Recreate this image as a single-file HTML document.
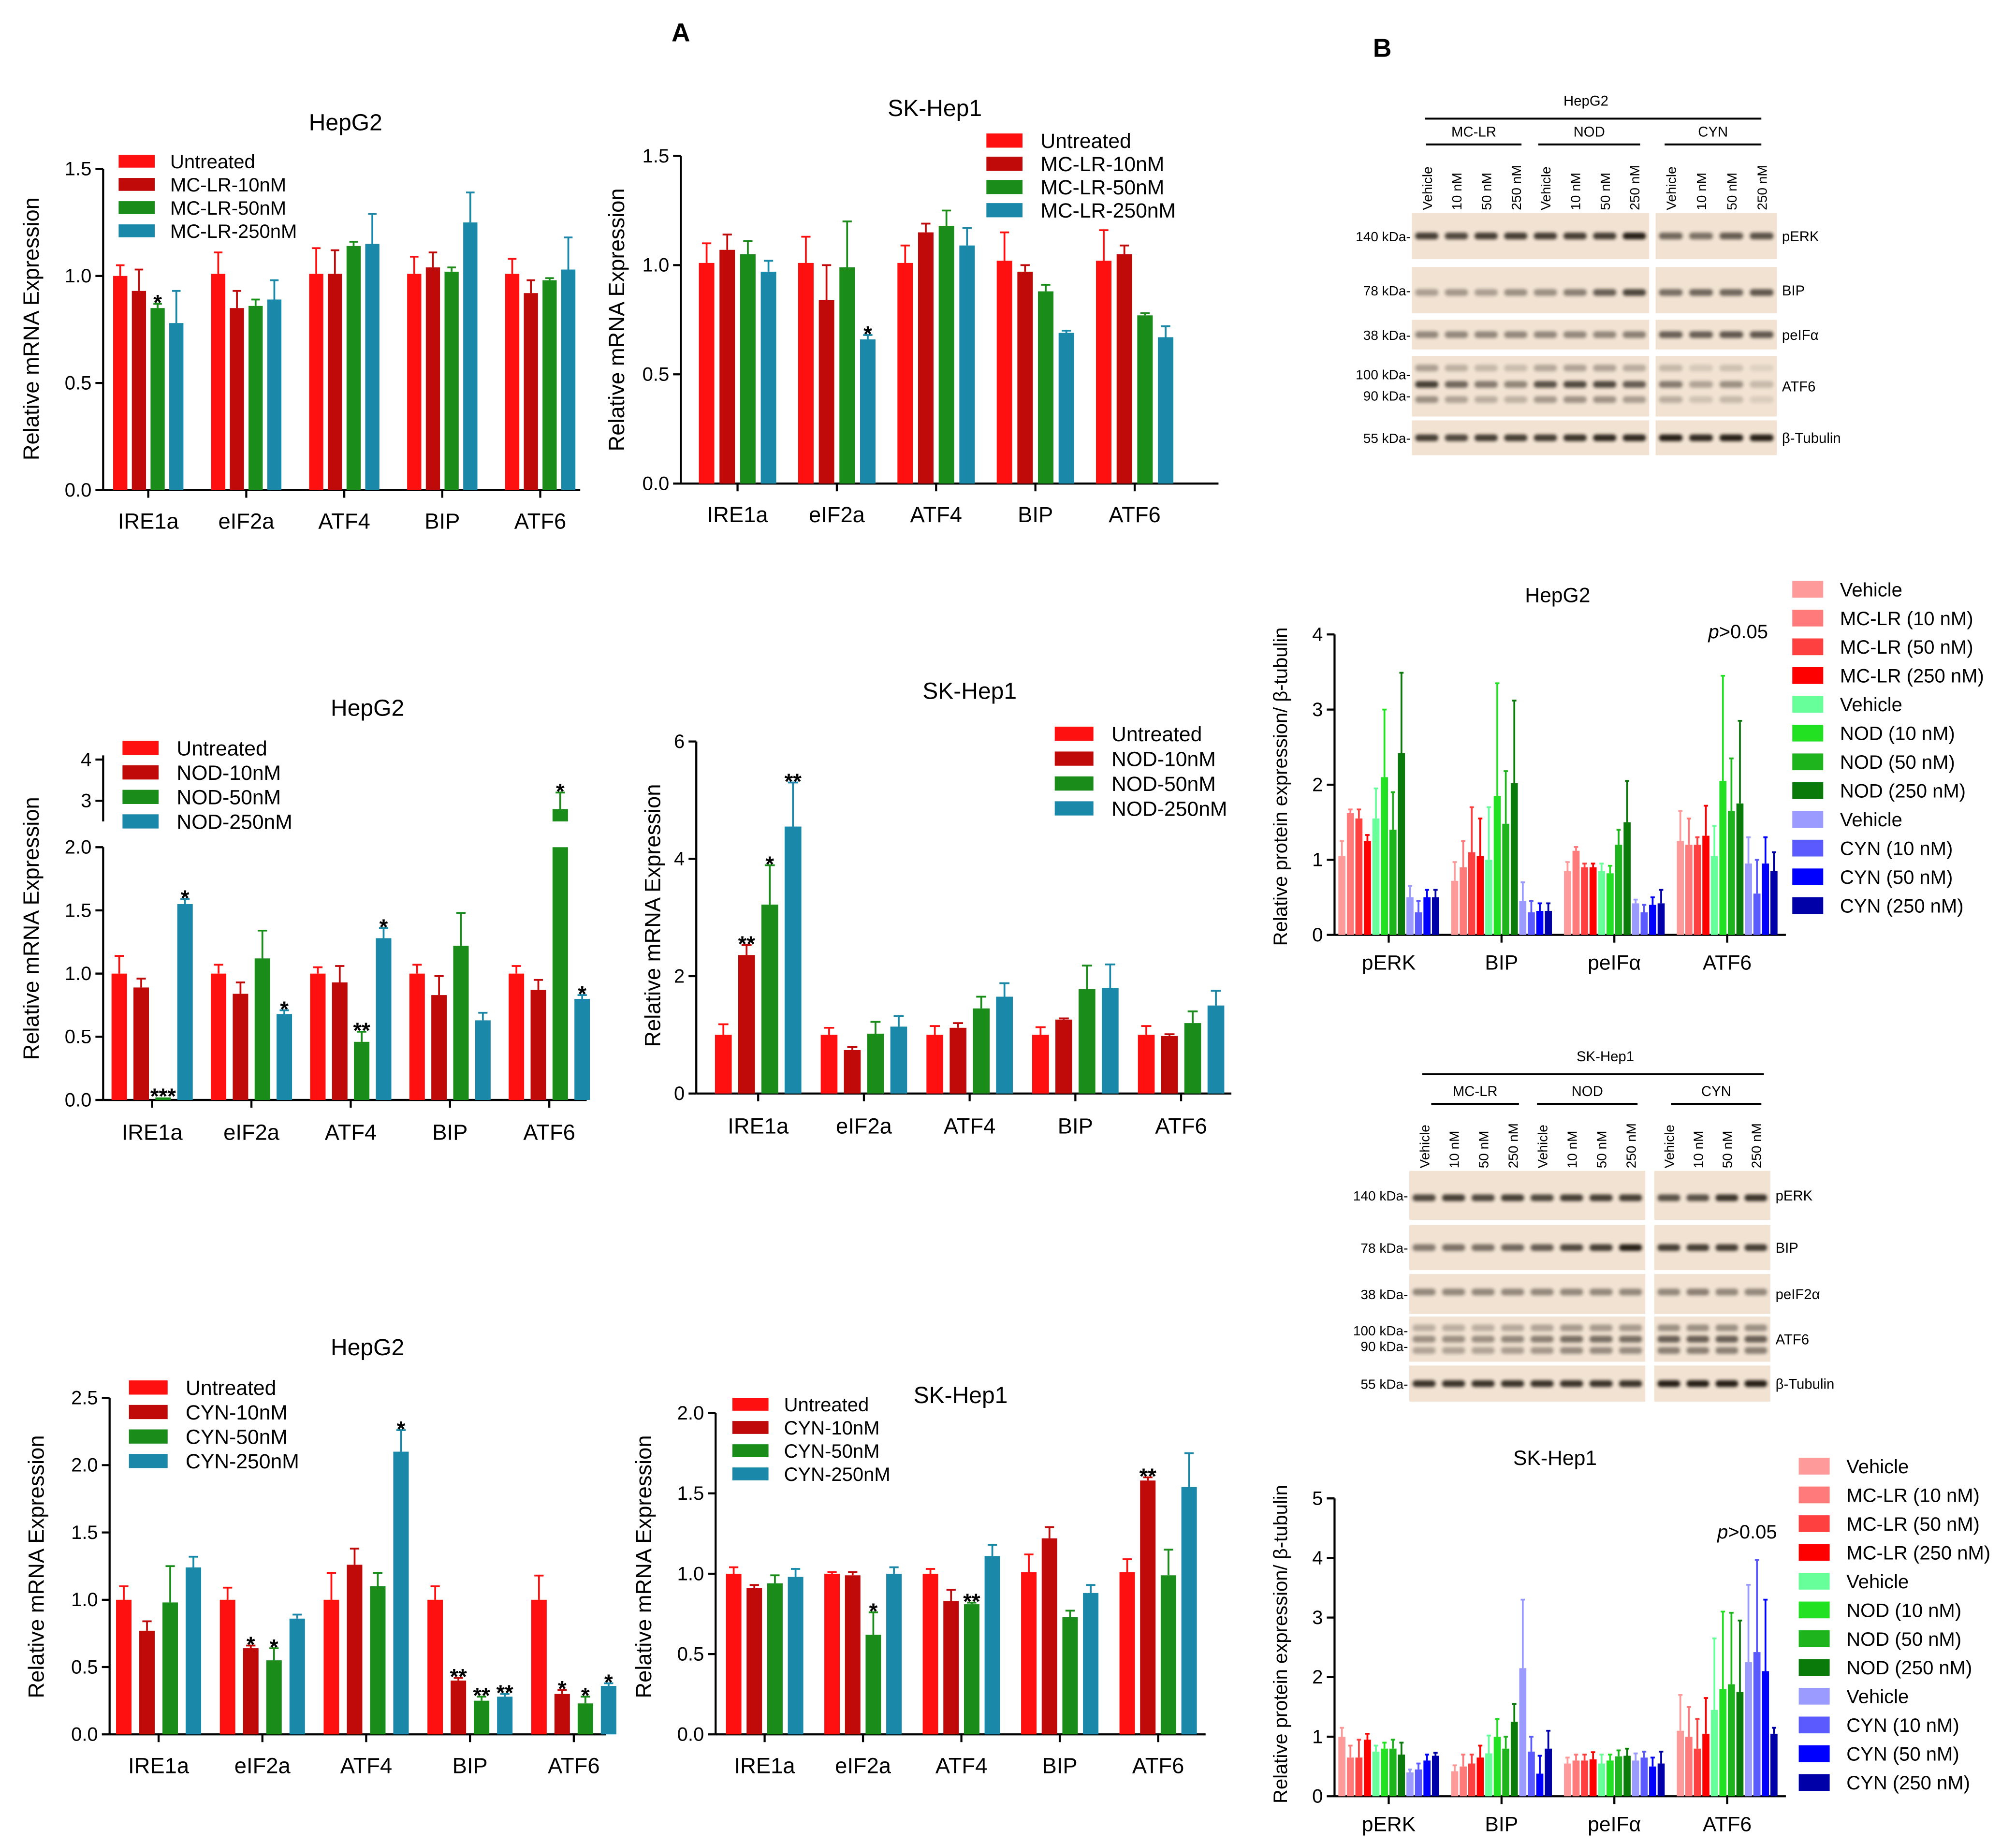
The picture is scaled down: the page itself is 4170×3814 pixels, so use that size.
<!DOCTYPE html>
<html><head><meta charset="utf-8">
<style>
html,body{margin:0;padding:0;background:#fff;}
svg{display:block;font-family:"Liberation Sans",Arial,sans-serif;}
</style></head>
<body>
<svg id="fig" width="4170" height="3814" viewBox="0 0 1563.5 1430" xmlns="http://www.w3.org/2000/svg">
<defs><filter id="blur" x="-20%" y="-50%" width="140%" height="200%"><feGaussianBlur stdDeviation="1.2"/></filter></defs>
<text x="528" y="32" font-size="20" font-weight="bold" text-anchor="middle">A</text>
<text x="1072" y="44" font-size="20" font-weight="bold" text-anchor="middle">B</text>
</svg>
<script>
// ===== Data =====
const mrnaCats = ["IRE1a","eIF2a","ATF4","BIP","ATF6"];
const protCats = ["pERK","BIP","peIFα","ATF6"];

const c1Vals = [[1.0,0.93,0.85,0.78],[1.01,0.85,0.86,0.89],[1.01,1.01,1.14,1.15],[1.01,1.04,1.02,1.25],[1.01,0.92,0.98,1.03]];
const c1Errs = [[0.05,0.1,0.02,0.15],[0.1,0.08,0.03,0.09],[0.12,0.11,0.02,0.14],[0.08,0.07,0.02,0.14],[0.07,0.06,0.01,0.15]];
const c1Stars = [["","","*",""],["","","",""],["","","",""],["","","",""],["","","",""]];
const c1Legend = ["Untreated","MC-LR-10nM","MC-LR-50nM","MC-LR-250nM"];
const c1Ticks = [0,0.5,1.0,1.5];

const c2Vals = [[1.01,1.07,1.05,0.97],[1.01,0.84,0.99,0.66],[1.01,1.15,1.18,1.09],[1.02,0.97,0.88,0.69],[1.02,1.05,0.77,0.67]];
const c2Errs = [[0.09,0.07,0.06,0.05],[0.12,0.16,0.21,0.02],[0.08,0.04,0.07,0.08],[0.13,0.03,0.03,0.01],[0.14,0.04,0.01,0.05]];
const c2Stars = [["","","",""],["","","","*"],["","","",""],["","","",""],["","","",""]];
const c2Ticks = [0,0.5,1.0,1.5];

const c3Vals = [[1.0,0.89,0.02,1.55],[1.0,0.84,1.12,0.68],[1.0,0.93,0.46,1.28],[1.0,0.83,1.22,0.63],[1.0,0.87,2.8,0.80]];
const c3Errs = [[0.14,0.07,0.0,0.04],[0.07,0.09,0.22,0.03],[0.05,0.13,0.08,0.08],[0.07,0.15,0.26,0.06],[0.06,0.08,0.4,0.03]];
const c3Stars = [["","","***","*"],["","","","*"],["","","**","*"],["","","",""],["","","*","*"]];
const c3Legend = ["Untreated","NOD-10nM","NOD-50nM","NOD-250nM"];
const c3Ticks = [0,0.5,1.0,1.5,2.0];
const c3TicksUpper = [3,4];

const c4Vals = [[1.0,2.36,3.22,4.55],[1.0,0.74,1.02,1.14],[1.0,1.12,1.45,1.65],[1.0,1.26,1.78,1.8],[1.0,0.98,1.2,1.5]];
const c4Errs = [[0.18,0.17,0.67,0.75],[0.12,0.05,0.2,0.18],[0.15,0.08,0.2,0.23],[0.13,0.02,0.4,0.4],[0.15,0.03,0.2,0.25]];
const c4Stars = [["","**","*","**"],["","","",""],["","","",""],["","","",""],["","","",""]];
const c4Ticks = [0,2,4,6];

const c5Vals = [[1.0,0.77,0.98,1.24],[1.0,0.64,0.55,0.86],[1.0,1.26,1.10,2.10],[1.0,0.40,0.25,0.28],[1.0,0.30,0.23,0.36]];
const c5Errs = [[0.1,0.07,0.27,0.08],[0.09,0.02,0.09,0.03],[0.2,0.12,0.1,0.16],[0.1,0.02,0.03,0.02],[0.18,0.03,0.05,0.02]];
const c5Stars = [["","","",""],["","*","*",""],["","","","*"],["","**","**","**"],["","*","*","*"]];
const c5Legend = ["Untreated","CYN-10nM","CYN-50nM","CYN-250nM"];
const c5Ticks = [0,0.5,1.0,1.5,2.0,2.5];

const c6Vals = [[1.0,0.91,0.94,0.98],[1.0,0.99,0.62,1.0],[1.0,0.83,0.81,1.11],[1.01,1.22,0.73,0.88],[1.01,1.58,0.99,1.54]];
const c6Errs = [[0.04,0.02,0.05,0.05],[0.01,0.02,0.14,0.04],[0.03,0.07,0.01,0.07],[0.11,0.07,0.04,0.05],[0.08,0.02,0.16,0.21]];
const c6Stars = [["","","",""],["","","*",""],["","","**",""],["","","",""],["","**","",""]];
const c6Ticks = [0,0.5,1.0,1.5,2.0];

const p1Vals = [[1.05,1.62,1.55,1.25,1.55,2.1,1.4,2.42,0.5,0.3,0.5,0.5],[0.72,0.9,1.1,1.05,1.0,1.85,1.48,2.02,0.45,0.3,0.32,0.32],[0.85,1.12,0.9,0.9,0.85,0.82,1.2,1.5,0.42,0.3,0.4,0.42],[1.25,1.2,1.2,1.32,1.05,2.05,1.65,1.75,0.95,0.55,0.95,0.85]];
const p1Errs = [[0.2,0.05,0.12,0.08,0.4,0.9,0.5,1.07,0.15,0.15,0.1,0.1],[0.25,0.35,0.6,0.5,0.7,1.5,0.7,1.1,0.25,0.15,0.1,0.1],[0.12,0.05,0.05,0.05,0.1,0.1,0.2,0.55,0.05,0.1,0.1,0.18],[0.4,0.35,0.1,0.4,0.4,1.4,0.7,1.1,0.35,0.45,0.35,0.25]];
const p2Vals = [[1.0,0.65,0.65,0.95,0.75,0.8,0.8,0.7,0.4,0.45,0.6,0.68],[0.42,0.5,0.55,0.65,0.72,1.0,0.8,1.25,2.15,0.75,0.38,0.8],[0.55,0.6,0.6,0.62,0.55,0.6,0.67,0.68,0.6,0.65,0.5,0.55],[1.1,1.0,0.8,1.05,1.45,1.8,1.88,1.75,2.25,2.42,2.1,1.05]];
const p2Errs = [[0.15,0.2,0.3,0.1,0.1,0.1,0.15,0.2,0.05,0.1,0.1,0.05],[0.1,0.2,0.15,0.2,0.3,0.3,0.2,0.3,1.15,0.25,0.3,0.3],[0.1,0.1,0.1,0.12,0.15,0.1,0.1,0.12,0.12,0.1,0.15,0.2],[0.6,0.5,0.5,0.6,1.2,1.3,1.2,1.2,1.3,1.55,1.2,0.1]];
const protLegend = ["Vehicle","MC-LR (10 nM)","MC-LR (50 nM)","MC-LR (250 nM)","Vehicle","NOD (10 nM)","NOD (50 nM)","NOD (250 nM)","Vehicle","CYN (10 nM)","CYN (50 nM)","CYN (250 nM)"];
const protTicks = [0,1,2,3,4];
const protTicks2 = [0,1,2,3,4,5];

const mColors = ["#ff1010","#c00a0a","#1a8c1a","#1a88a8"];
const pColors = ["#ff9a9a","#ff7a7a","#ff4040","#ff0000","#66ff99","#22e022","#1db41d","#0a7a0a","#9a9aff","#5a5aff","#0000ff","#0000a8"];

// ===== Helpers =====
const svg = document.getElementById('fig');
const NS = "http://www.w3.org/2000/svg";
function mk(tag, attrs, parent){
  const e = document.createElementNS(NS, tag);
  for (const k in attrs) e.setAttribute(k, attrs[k]);
  (parent||svg).appendChild(e);
  return e;
}
function txt(s, x, y, size, anchor, parent, extra){
  const t = mk('text', Object.assign({x:x, y:y, 'font-size':size, 'text-anchor':anchor||'start'}, extra||{}), parent);
  t.textContent = s;
  return t;
}
function fmt(v, d){ return v.toFixed(d); }

function barChart(cfg){
  const g = mk('g', {});
  
  
  const y = cfg.y;
  const ax = cfg.ax, y0 = y(0);
  const tt = txt(cfg.title, cfg.titleX, cfg.titleY, cfg.titleSize||18, 'middle', g);
  
  
  const yl = txt(cfg.ylabel, 0, 0, cfg.ylSize||17, 'middle', g, {transform:`translate(${cfg.ylX},${cfg.ylY}) rotate(-90)`});
  
  
  const axis = mk('g', {stroke:'#000','stroke-width':1.6,fill:'none'}, g);
  
  
  if (cfg.segments){
    cfg.segments.forEach(s => mk('line', {x1:ax, x2:ax, y1:y(s[0]), y2:y(s[1])}, axis));
  } else {
    mk('line', {x1:ax, x2:ax, y1:y0, y2:y(cfg.ymax)}, axis);
  }
  cfg.ticks.forEach(t => {
    mk('line', {x1:ax-6, x2:ax, y1:y(t), y2:y(t)}, axis);
    const l = txt(fmt(t, cfg.dec), ax-9, y(t)+5, cfg.tickSize||15, 'end', g);
    
    
  });
  const xa = mk('line', {x1:ax, x2:cfg.xEnd, y1:y0, y2:y0, stroke:'#000','stroke-width':1.6}, g);
  
  
  cfg.cats.forEach((c, i) => {
    const cx = cfg.start + i*cfg.step;
    mk('line', {x1:cx, x2:cx, y1:y0, y2:y0+6, stroke:'#000','stroke-width':1.6}, g);
    const cl = txt(c, cx, y0+cfg.catDy, cfg.catSize||17, 'middle', g);
    
    
    const n = cfg.vals[i].length;
    cfg.vals[i].forEach((v, j) => {
      const bx = cx + (j-(n-1)/2)*cfg.bstep - cfg.bw/2;
      const col = cfg.colors[j];
      const top = y(v);
      if (cfg.breakFrom !== undefined && v > cfg.breakFrom){
        const r1 = mk('rect', {x:bx, y:y(cfg.breakFrom), width:cfg.bw, height:y0-y(cfg.breakFrom), fill:col}, g);
        
        
        const r2 = mk('rect', {x:bx, y:top, width:cfg.bw, height:y(cfg.breakTo)-top, fill:col}, g);
        
        
      } else {
        const r = mk('rect', {x:bx, y:top, width:cfg.bw, height:Math.max(0,y0-top), fill:col}, g);
        
        
      }
      const e = cfg.errs[i][j];
      const ey = y(v+e);
      const bxc = bx + cfg.bw/2;
      if (e > 0){
        const eb = mk('path', {d:`M${bxc},${top}V${ey}M${bxc-cfg.bw*0.3},${ey}H${bxc+cfg.bw*0.3}`, stroke:col, 'stroke-width':1.4, fill:'none'}, g);
        
        
      }
      if (cfg.stars && cfg.stars[i][j]){
        const s = txt(cfg.stars[i][j], bxc, ey+5, 17, 'middle', g, {'font-weight':'bold'});
        
        
      }
    });
  });
  const lg = mk('g', {}, g);
  
  
  cfg.legend.forEach((l, k) => {
    const ly = cfg.legY + k*cfg.legStep;
    const sw = mk('rect', {x:cfg.legX, y:ly-cfg.legSw/2, width:cfg.legSwW, height:cfg.legSw, fill:cfg.colors[k]}, lg);
    
    
    const lt = txt(l, cfg.legX+cfg.legSwW+cfg.legGap, ly+cfg.legSize*0.36, cfg.legSize, 'start', lg);
    
    
  });
  return g;
}
function lin(y0px, pxPerUnit){ return v => y0px - v*pxPerUnit; }

barChart({name:'chart-hepg2-mclr', y:lin(380,166), ax:80, xEnd:450, ymax:1.5, ticks:c1Ticks, dec:1,
  title:'HepG2', titleX:268, titleY:101, ylabel:'Relative mRNA Expression', ylX:30, ylY:255,
  cats:mrnaCats, vals:c1Vals, errs:c1Errs, stars:c1Stars, start:115, step:76, bw:11, bstep:14.5, catDy:30,
  colors:mColors, legend:c1Legend, legX:92, legY:125, legStep:18, legSw:10, legSwW:28, legGap:12, legSize:15});
barChart({name:'chart-skhep1-mclr', y:lin(375,169.4), ax:528, xEnd:945, ymax:1.5, ticks:c2Ticks, dec:1,
  title:'SK-Hep1', titleX:725, titleY:90, ylabel:'Relative mRNA Expression', ylX:484, ylY:248,
  cats:mrnaCats, vals:c2Vals, errs:c2Errs, stars:c2Stars, start:572, step:77, bw:12, bstep:16, catDy:30,
  colors:mColors, legend:c1Legend, legX:765, legY:109, legStep:18, legSw:11, legSwW:28, legGap:14, legSize:16});
const c3y = v => v <= 2.05 ? 853 - v*98 : 637 - (v-2.5)*32;
barChart({name:'chart-hepg2-nod', y:c3y, ax:80, xEnd:455, ymax:2, ticks:c3Ticks, dec:1,
  segments:[[0,2.0],[2.5,4.1]], breakFrom:2.0, breakTo:2.5,
  title:'HepG2', titleX:285, titleY:555, ylabel:'Relative mRNA Expression', ylX:30, ylY:720,
  cats:mrnaCats, vals:c3Vals, errs:c3Errs, stars:c3Stars, start:118, step:77, bw:12, bstep:17, catDy:31,
  colors:mColors, legend:c3Legend, legX:95, legY:580, legStep:19, legSw:11, legSwW:28, legGap:14, legSize:16});
c3TicksUpper.forEach(t => {
  mk('line', {x1:74, x2:80, y1:c3y(t), y2:c3y(t), stroke:'#000','stroke-width':1.6});
  const l = txt(String(t), 71, c3y(t)+5, 15, 'end');
  
  
});
barChart({name:'chart-skhep1-nod', y:lin(848,45.5), ax:540, xEnd:955, ymax:6, ticks:c4Ticks, dec:0,
  title:'SK-Hep1', titleX:752, titleY:542, ylabel:'Relative mRNA Expression', ylX:512, ylY:710,
  cats:mrnaCats, vals:c4Vals, errs:c4Errs, stars:c4Stars, start:588, step:82, bw:13, bstep:18, catDy:31,
  colors:mColors, legend:c3Legend, legX:818, legY:569, legStep:19.3, legSw:11, legSwW:30, legGap:14, legSize:16});
barChart({name:'chart-hepg2-cyn', y:lin(1345,104.4), ax:85, xEnd:470, ymax:2.5, ticks:c5Ticks, dec:1,
  title:'HepG2', titleX:285, titleY:1051, ylabel:'Relative mRNA Expression', ylX:34, ylY:1215,
  cats:mrnaCats, vals:c5Vals, errs:c5Errs, stars:c5Stars, start:123, step:80.5, bw:12, bstep:18, catDy:30,
  colors:mColors, legend:c5Legend, legX:100, legY:1076, legStep:19, legSw:11, legSwW:30, legGap:14, legSize:16});
barChart({name:'chart-skhep1-cyn', y:lin(1345,124.6), ax:555, xEnd:935, ymax:2.0, ticks:c6Ticks, dec:1,
  title:'SK-Hep1', titleX:745, titleY:1088, ylabel:'Relative mRNA Expression', ylX:505, ylY:1215,
  cats:mrnaCats, vals:c6Vals, errs:c6Errs, stars:c6Stars, start:593, step:76.3, bw:12, bstep:16, catDy:30,
  colors:mColors, legend:c5Legend, legX:568, legY:1089, legStep:18, legSw:10, legSwW:28, legGap:12, legSize:15});
barChart({name:'chart-protein-hepg2', y:lin(725,58.25), ax:1035, xEnd:1385, ymax:4, ticks:protTicks, dec:0,
  title:'HepG2', titleX:1208, titleY:467, titleSize:16, ylabel:'Relative protein expression/ β-tubulin', ylX:998, ylY:610, ylSize:15,
  cats:protCats, vals:p1Vals, errs:p1Errs, start:1077, step:87.5, bw:5.5, bstep:6.6, catDy:27, catSize:16,
  colors:pColors, legend:protLegend, legX:1390, legY:457, legStep:22.3, legSw:13, legSwW:24, legGap:13, legSize:15});
barChart({name:'chart-protein-skhep1', y:lin(1393,46.2), ax:1035, xEnd:1385, ymax:5, ticks:protTicks2, dec:0,
  title:'SK-Hep1', titleX:1206, titleY:1136, titleSize:16, ylabel:'Relative protein expression/ β-tubulin', ylX:998, ylY:1275, ylSize:15,
  cats:protCats, vals:p2Vals, errs:p2Errs, start:1077, step:87.5, bw:5.5, bstep:6.6, catDy:27, catSize:16,
  colors:pColors, legend:protLegend, legX:1395, legY:1137, legStep:22.3, legSw:13, legSwW:24, legGap:13, legSize:15});
const pv1 = txt('p>0.05', 1348, 495, 15, 'middle'); pv1.innerHTML = '<tspan font-style="italic">p</tspan>&gt;0.05';
 
const pv2 = txt('p>0.05', 1355, 1193, 15, 'middle'); pv2.innerHTML = '<tspan font-style="italic">p</tspan>&gt;0.05';
 

// ===== Western blots =====
const laneLabels = ["Vehicle","10 nM","50 nM","250 nM"];
const blot1Rows = [
  {name:'pERK', kda:['140 kDa'], y1:165, y2:201, bands:[[0.5,1]], dk:[0.8,0.75,0.8,0.8,0.8,0.8,0.8,0.95], dk2:[0.6,0.55,0.65,0.7]},
  {name:'BIP', kda:['78 kDa'], y1:207, y2:243, bands:[[0.55,0.8]], dk:[0.4,0.45,0.4,0.5,0.5,0.6,0.8,0.95], dk2:[0.7,0.75,0.75,0.85]},
  {name:'peIFα', kda:['38 kDa'], y1:248, y2:271, bands:[[0.5,0.8]], dk:[0.55,0.55,0.55,0.55,0.55,0.55,0.55,0.6], dk2:[0.8,0.8,0.85,0.85]},
  {name:'ATF6', kda:['100 kDa','90 kDa'], y1:276, y2:323, bands:[[0.2,0.4],[0.47,1],[0.72,0.5]], dk:[0.8,0.6,0.5,0.45,0.7,0.75,0.75,0.65], dk2:[0.5,0.3,0.4,0.2]},
  {name:'β-Tubulin', kda:['55 kDa'], y1:326, y2:353, bands:[[0.5,1]], dk:[0.8,0.75,0.8,0.8,0.8,0.85,0.9,0.9], dk2:[0.95,0.9,0.95,0.95]}
];
const blot2Rows = [
  {name:'pERK', kda:['140 kDa'], y1:908, y2:946, bands:[[0.55,1]], dk:[0.75,0.8,0.75,0.8,0.75,0.8,0.8,0.8], dk2:[0.7,0.7,0.85,0.85]},
  {name:'BIP', kda:['78 kDa'], y1:950, y2:985, bands:[[0.5,1]], dk:[0.5,0.55,0.55,0.6,0.65,0.75,0.8,0.95], dk2:[0.8,0.8,0.8,0.8]},
  {name:'peIF2α', kda:['38 kDa'], y1:988, y2:1019, bands:[[0.45,0.8]], dk:[0.55,0.55,0.55,0.55,0.55,0.55,0.55,0.55], dk2:[0.55,0.6,0.55,0.55]},
  {name:'ATF6', kda:['100 kDa','90 kDa'], y1:1021, y2:1056, bands:[[0.25,0.5],[0.5,0.8],[0.75,0.6]], dk:[0.5,0.5,0.5,0.55,0.6,0.7,0.7,0.7], dk2:[0.8,0.8,0.8,0.8]},
  {name:'β-Tubulin', kda:['55 kDa'], y1:1059, y2:1087, bands:[[0.5,1]], dk:[0.85,0.85,0.85,0.85,0.85,0.85,0.85,0.85], dk2:[0.95,0.95,0.95,0.95]}
];
function blot(cfg){
  const g = mk('g', {});
  
  
  const ht = txt(cfg.title, cfg.titleX, cfg.titleY, 11, 'middle', g);
  
  
  mk('line', {x1:cfg.hx1, x2:cfg.hx2, y1:cfg.titleY+10, y2:cfg.titleY+10, stroke:'#000','stroke-width':1.5}, g);
  cfg.groups.forEach(gr => {
    const t = txt(gr[0], (gr[1]+gr[2])/2, cfg.grpY, 11, 'middle', g);
    
    
    mk('line', {x1:gr[1], x2:gr[2], y1:cfg.grpY+6, y2:cfg.grpY+6, stroke:'#000','stroke-width':1.5}, g);
  });
  const lanesA = [], lanesB = [];
  for (let i=0;i<8;i++) lanesA.push(cfg.ax1 + (i+0.5)*(cfg.ax2-cfg.ax1)/8);
  for (let i=0;i<4;i++) lanesB.push(cfg.bx1 + (i+0.5)*(cfg.bx2-cfg.bx1)/4);
  lanesA.concat(lanesB).forEach((lx, k) => {
    const t = txt(laneLabels[k%4], 0, 0, 10.5, 'start', g, {transform:`translate(${lx+4},${cfg.laneY}) rotate(-90)`});
    
    
  });
  cfg.rows.forEach(r => {
    const h = r.y2 - r.y1;
    [[cfg.ax1,cfg.ax2,lanesA,r.dk],[cfg.bx1,cfg.bx2,lanesB,r.dk2]].forEach(p => {
      const bg = mk('rect', {x:p[0], y:r.y1, width:p[1]-p[0], height:h, fill:'#f1e2d2'}, g);
      
      
      const lw = (p[1]-p[0])/p[2].length*0.78;
      p[2].forEach((lx, k) => {
        r.bands.forEach(b => {
          const band = mk('rect', {x:lx-lw/2, y:r.y1+h*b[0]-2.6, width:lw, height:5.2, rx:2.5, fill:'#1a1410', opacity:(p[3][k]*b[1]).toFixed(2), filter:'url(#blur)'}, g);
          
          
        });
      });
    });
    const rl = txt(r.name, cfg.bx2+4, (r.y1+r.y2)/2+4, 11, 'start', g);
    
    
    r.kda.forEach((kd, k) => {
      const ky = r.kda.length===1 ? (r.y1+r.y2)/2+4 : r.y1 + h*(0.3+0.35*k)+4;
      const kt = txt(kd+'-', cfg.ax1-1, ky, 10.5, 'end', g);
      
      
    });
  });
}
blot({name:'western-blot-hepg2', title:'HepG2', titleX:1230, titleY:82, hx1:1105, hx2:1366,
  groups:[['MC-LR',1106,1180],['NOD',1193,1272],['CYN',1291,1366]], grpY:106, laneY:163,
  ax1:1095, ax2:1279, bx1:1284, bx2:1378, rows:blot1Rows});
blot({name:'western-blot-skhep1', title:'SK-Hep1', titleX:1245, titleY:823, hx1:1103, hx2:1368,
  groups:[['MC-LR',1110,1178],['NOD',1192,1270],['CYN',1296,1366]], grpY:850, laneY:906,
  ax1:1093, ax2:1276, bx1:1283, bx2:1373, rows:blot2Rows});
</script>
</body></html>
